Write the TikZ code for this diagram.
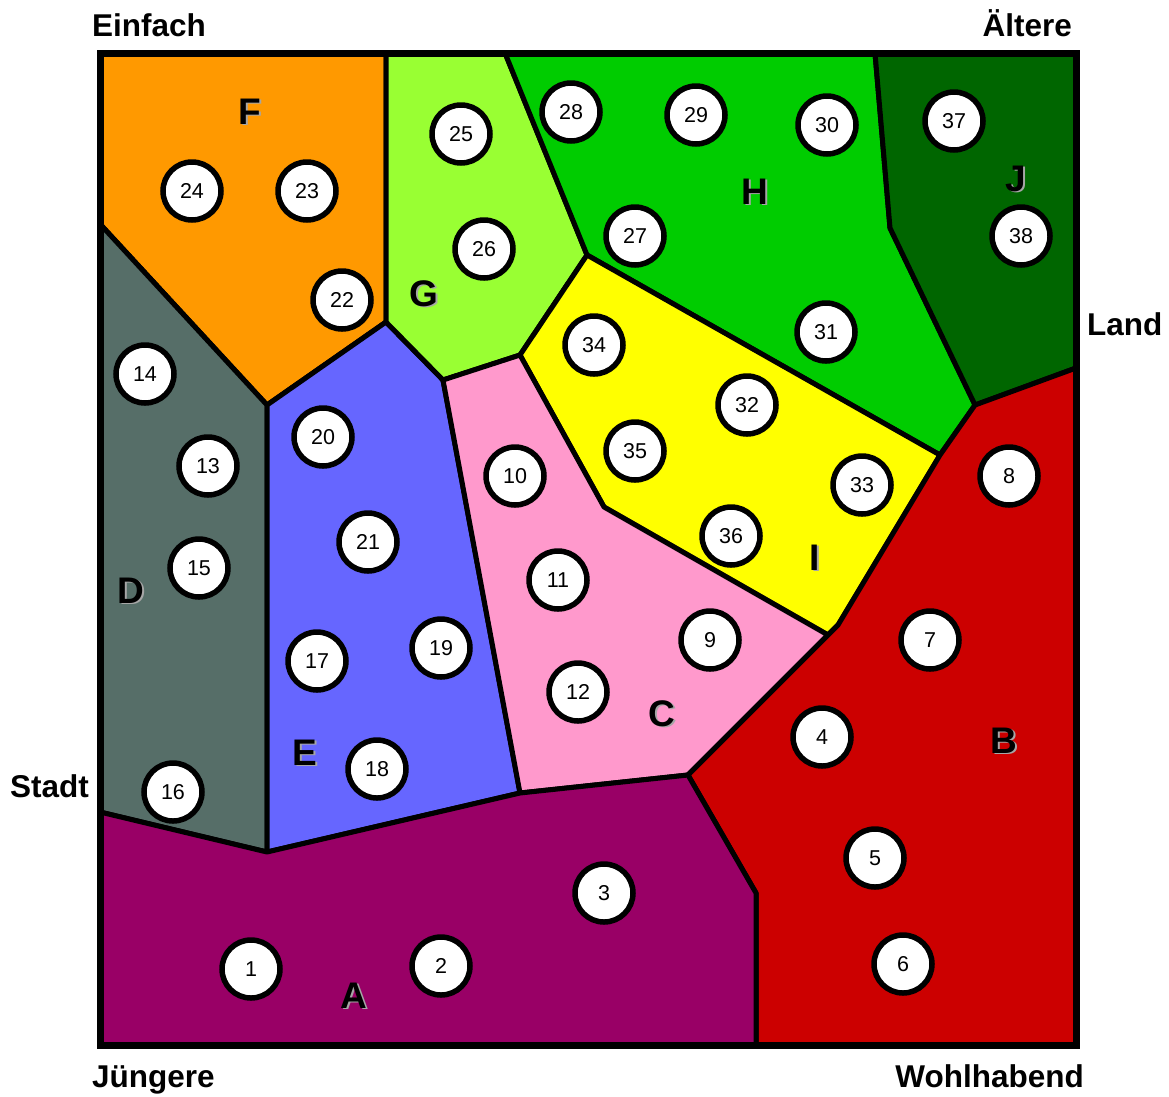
\documentclass[tikz,border=0pt]{standalone}
\usepackage{fontspec}
\setmainfont{Liberation Sans}
\definecolor{cA}{HTML}{990066}
\definecolor{cB}{HTML}{CC0000}
\definecolor{cC}{HTML}{FF99CC}
\definecolor{cD}{RGB}{86,110,104}
\definecolor{cE}{HTML}{6666FF}
\definecolor{cF}{HTML}{FF9900}
\definecolor{cG}{HTML}{99FF33}
\definecolor{cH}{HTML}{00CC00}
\definecolor{cI}{HTML}{FFFF00}
\definecolor{cJ}{HTML}{006600}
\tikzset{
  region/.style={draw=black,line width=5pt,line join=round},
  num/.style={circle,draw=black,fill=white,line width=5.5pt,minimum size=58pt,inner sep=0pt,font=\fontsize{21.5}{22}\selectfont},
  axislabel/.style={inner sep=0pt,font=\bfseries\fontsize{31.5}{32}\selectfont},
  grouplabel/.style={inner sep=0pt,anchor=base,font=\bfseries\fontsize{37}{38}\selectfont},
  groupshadow/.style={grouplabel,text=black!35},
}
\newcommand{\grp}[3]{%
  \node[groupshadow] at ([shift={(1.8,1.8)}]#2) {#3};
  \node[grouplabel] (#1) at (#2) {#3};}
\begin{document}
\begin{tikzpicture}[x=1pt,y=-1pt]
\useasboundingbox (0,0) rectangle (1169,1096);
% regions
\filldraw[region,fill=cF] (100,53) -- (386,53) -- (386,322) -- (267,405) -- (100,224) -- cycle;
\filldraw[region,fill=cD] (100,224) -- (267,405) -- (267,852) -- (100,812) -- cycle;
\filldraw[region,fill=cE] (267,405) -- (386,322) -- (443,380) -- (520,793) -- (267,852) -- cycle;
\filldraw[region,fill=cG] (386,53) -- (505,53) -- (587,255) -- (520,355) -- (443,380) -- (386,322) -- cycle;
\filldraw[region,fill=cH] (505,53) -- (875,53) -- (890,228) -- (975,405) -- (940,455) -- (587,255) -- cycle;
\filldraw[region,fill=cJ] (875,53) -- (1076,53) -- (1076,368) -- (975,405) -- (890,228) -- cycle;
\filldraw[region,fill=cI] (587,255) -- (940,455) -- (838,625) -- (828,635) -- (604,507) -- (520,355) -- cycle;
\filldraw[region,fill=cC] (443,380) -- (520,355) -- (604,507) -- (828,635) -- (688,775) -- (520,793) -- cycle;
\filldraw[region,fill=cB] (975,405) -- (1076,368) -- (1076,1045) -- (756,1045) -- (756,893) -- (688,775) -- (828,635) -- (838,625) -- (940,455) -- cycle;
\filldraw[region,fill=cA] (100,812) -- (267,852) -- (520,793) -- (688,775) -- (756,893) -- (756,1045) -- (100,1045) -- cycle;
\draw[line width=7pt,line join=miter] (100,53) rectangle (1076,1045);
% numbered circles
\foreach \n/\x/\y in {1/251/969,2/441/966,3/604/893,4/822/737,5/875/858,6/903/964,7/930/640,8/1009/476,9/710/640,10/515/476,11/558/580,12/578/692,13/208/466,14/145/374,15/199/568,16/173/792,17/317/661,18/377/769,19/441/648,20/323/437,21/368/542,22/342/300,23/307/191,24/192/191,25/461/134,26/484/249,27/635/236,28/571/112,29/696/115,30/827/125,31/826/332,32/747/405,33/862/485,34/594/345,35/635/451,36/731/536,37/954/121,38/1021/236}
  \node[num] (n\n) at (\x,\y) {\n};
% group letters
\grp{A}{354,1008}{A}
\grp{B}{1004,753}{B}
\grp{C}{662,726}{C}
\grp{D}{131,603}{D}
\grp{E}{305,765}{E}
\grp{F}{250,124}{F}
\grp{G}{424,306}{G}
\grp{H}{755,204}{H}
\grp{I}{815,570}{I}
\grp{J}{1016,191}{J}
% axis labels
\node[axislabel,anchor=base west] (einfach) at (92,36) {Einfach};
\node[axislabel,anchor=base east] (aeltere) at (1072,36) {Ältere};
\node[axislabel,anchor=base west] (land) at (1087,335) {Land};
\node[axislabel,anchor=base east] (stadt) at (89,797) {Stadt};
\node[axislabel,anchor=base west] (juengere) at (92,1087) {Jüngere};
\node[axislabel,anchor=base east] (wohl) at (1084,1087) {Wohlhabend};
\end{tikzpicture}
\end{document}
